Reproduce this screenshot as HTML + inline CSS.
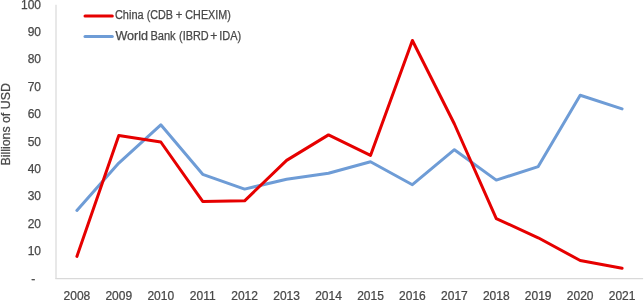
<!DOCTYPE html>
<html><head><meta charset="utf-8"><style>
html,body{margin:0;padding:0;background:#fff;width:644px;height:300px;overflow:hidden}
svg{display:block}
text{font-family:"Liberation Sans",sans-serif;font-size:12px;fill:#484848;stroke:#484848;stroke-width:0.25px}
svg{will-change:transform}
</style></head><body>
<svg width="644" height="300" viewBox="0 0 644 300">
<rect width="644" height="300" fill="#fff"/>
<line x1="56" y1="4.8" x2="56" y2="279" stroke="#D9D9D9" stroke-width="1.2"/>
<line x1="55.4" y1="278.7" x2="643.1" y2="278.7" stroke="#D9D9D9" stroke-width="1.2"/>

<text x="41" y="254.9" text-anchor="end">10</text>
<text x="41" y="227.6" text-anchor="end">20</text>
<text x="41" y="200.2" text-anchor="end">30</text>
<text x="41" y="172.9" text-anchor="end">40</text>
<text x="41" y="145.5" text-anchor="end">50</text>
<text x="41" y="118.1" text-anchor="end">60</text>
<text x="41" y="90.8" text-anchor="end">70</text>
<text x="41" y="63.4" text-anchor="end">80</text>
<text x="41" y="36.1" text-anchor="end">90</text>
<text x="41" y="8.7" text-anchor="end">100</text>
<text x="35.3" y="282.9" text-anchor="end">-</text>
<text x="76.9" y="299.6" text-anchor="middle">2008</text>
<text x="118.8" y="299.6" text-anchor="middle">2009</text>
<text x="160.8" y="299.6" text-anchor="middle">2010</text>
<text x="202.7" y="299.6" text-anchor="middle">2011</text>
<text x="244.6" y="299.6" text-anchor="middle">2012</text>
<text x="286.6" y="299.6" text-anchor="middle">2013</text>
<text x="328.5" y="299.6" text-anchor="middle">2014</text>
<text x="370.5" y="299.6" text-anchor="middle">2015</text>
<text x="412.4" y="299.6" text-anchor="middle">2016</text>
<text x="454.4" y="299.6" text-anchor="middle">2017</text>
<text x="496.3" y="299.6" text-anchor="middle">2018</text>
<text x="538.2" y="299.6" text-anchor="middle">2019</text>
<text x="580.2" y="299.6" text-anchor="middle">2020</text>
<text x="622.1" y="299.6" text-anchor="middle">2021</text>
<text transform="translate(10,124.4) rotate(-90)" text-anchor="middle" textLength="82.4" lengthAdjust="spacingAndGlyphs">Billions of USD</text>
<line x1="85" y1="15.9" x2="112.3" y2="15.9" stroke="#E60000" stroke-width="3" stroke-linecap="round"/>
<line x1="85" y1="36.6" x2="112.3" y2="36.6" stroke="#6E9CD6" stroke-width="3" stroke-linecap="round"/>
<text x="114.94" y="18.7" textLength="28.66" lengthAdjust="spacingAndGlyphs">China</text>
<text x="146.63" y="18.7" textLength="26.34" lengthAdjust="spacingAndGlyphs">(CDB</text>
<text x="175.65" y="18.7" textLength="6.61" lengthAdjust="spacingAndGlyphs">+</text>
<text x="185.35" y="18.7" textLength="45.41" lengthAdjust="spacingAndGlyphs">CHEXIM)</text>
<text x="115.45" y="39.9" textLength="32.66" lengthAdjust="spacingAndGlyphs">World</text>
<text x="150.39" y="39.9" textLength="25.29" lengthAdjust="spacingAndGlyphs">Bank</text>
<text x="179.02" y="39.9" textLength="29.70" lengthAdjust="spacingAndGlyphs">(IBRD</text>
<text x="210.21" y="39.9" textLength="7.09" lengthAdjust="spacingAndGlyphs">+</text>
<text x="219.29" y="39.9" textLength="22.00" lengthAdjust="spacingAndGlyphs">IDA)</text>
<polyline points="76.9,210.4 118.8,163.1 160.8,124.8 202.7,174.3 244.6,189.1 286.6,179.2 328.5,173.2 370.5,161.7 412.4,184.7 454.4,149.7 496.3,180.1 538.2,166.6 580.2,95.2 622.1,108.9" fill="none" stroke="#6E9CD6" stroke-width="3" stroke-linejoin="round" stroke-linecap="round"/>
<polyline points="76.9,256.4 118.8,135.5 160.8,142.0 202.7,201.4 244.6,200.8 286.6,160.4 328.5,134.9 370.5,155.4 412.4,40.5 454.4,124.0 496.3,218.6 538.2,237.8 580.2,260.5 622.1,268.2" fill="none" stroke="#E60000" stroke-width="3" stroke-linejoin="round" stroke-linecap="round"/>
</svg></body></html>
